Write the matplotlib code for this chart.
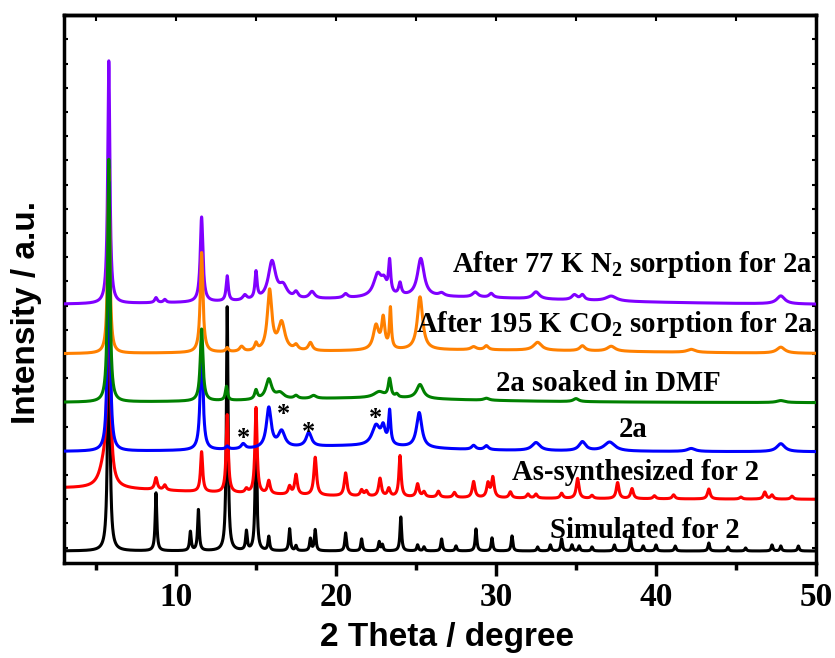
import numpy as np
import matplotlib.pyplot as plt
from matplotlib import font_manager
from matplotlib.ticker import MultipleLocator

# peak lists: (2theta, height, half width), heights in plot units
# base = flat level of each curve in the stack
sim_base = 12
sim_peaks = [(5.8, 300, 0.07), (8.75, 58, 0.06), (10.9, 19, 0.06), (11.4, 41, 0.06),
             (13.2, 244, 0.06), (14.4, 19, 0.06), (15.0, 131, 0.06), (15.8, 14, 0.06),
             (17.1, 22, 0.06), (17.5, 5, 0.06), (18.4, 12, 0.06), (18.7, 21, 0.06),
             (20.6, 18, 0.06), (21.6, 12, 0.06), (22.7, 9, 0.06), (22.9, 6, 0.06),
             (24.05, 34, 0.06), (25.1, 6, 0.06), (25.5, 4, 0.06), (26.6, 12, 0.06),
             (27.5, 5, 0.06), (28.75, 22, 0.06), (29.75, 13, 0.06), (31.0, 15, 0.06),
             (32.6, 4, 0.06), (33.4, 6, 0.06), (34.1, 12, 0.06), (34.75, 6, 0.06),
             (35.2, 5, 0.06), (36.0, 4, 0.06), (37.4, 6, 0.06), (38.4, 14, 0.06),
             (39.2, 5, 0.06), (40.0, 6, 0.06), (41.2, 5, 0.06), (43.3, 8, 0.06),
             (44.5, 4, 0.06), (45.6, 3, 0.06), (47.25, 6, 0.06), (47.8, 5, 0.06),
             (48.9, 5, 0.06)]

as_base = 63
as_peaks = [(3.0, 12, 12.0), (5.5, 20, 0.35), (5.8, 220, 0.1), (8.75, 12, 0.1), (9.3, 5, 0.1),
            (11.6, 40, 0.08), (13.2, 78, 0.08), (14.4, 4, 0.1), (15.0, 86, 0.08),
            (15.8, 13, 0.1), (17.1, 8, 0.1), (17.5, 20, 0.1), (18.7, 38, 0.1),
            (20.6, 23, 0.1), (21.6, 6, 0.1), (21.9, 5, 0.1), (22.75, 18, 0.1),
            (23.3, 8, 0.1), (24.0, 41, 0.08), (25.1, 13, 0.1), (25.5, 5, 0.1),
            (26.4, 6, 0.1), (27.4, 5, 0.1), (28.6, 16, 0.1), (29.5, 14, 0.1),
            (29.8, 20, 0.1), (30.9, 6, 0.1), (32.0, 4, 0.1), (32.5, 4, 0.1),
            (34.1, 5, 0.1), (35.1, 20, 0.1), (36.0, 3, 0.1), (37.6, 16, 0.1),
            (38.5, 10, 0.1), (39.9, 3, 0.1), (41.1, 4, 0.1), (43.3, 10, 0.1),
            (45.3, 2, 0.1), (46.8, 7, 0.1), (47.25, 4, 0.1), (48.5, 3, 0.1)]

act_base = 111
act_peaks = [(21.0, 6, 6.0), (5.8, 270, 0.08), (11.6, 110, 0.1), (13.2, 3, 0.1), (14.2, 5, 0.15),
             (15.8, 40, 0.18), (16.6, 16, 0.25), (18.3, 14, 0.2), (22.5, 20, 0.3),
             (22.95, 16, 0.15), (23.35, 33, 0.08), (25.2, 35, 0.2), (28.6, 4, 0.15),
             (29.4, 4, 0.15), (32.5, 8, 0.3), (35.4, 9, 0.25), (37.1, 9, 0.4),
             (42.2, 3, 0.3), (47.8, 8, 0.3)]

dmf_base = 160
dmf_peaks = [(22.0, 5, 8.0), (5.8, 243, 0.08), (11.6, 72, 0.1), (13.15, 14, 0.08), (15.0, 9, 0.1),
             (15.8, 20, 0.22), (16.5, 6, 0.3), (17.5, 3, 0.15), (18.6, 3, 0.2),
             (22.7, 6, 0.4), (23.35, 18, 0.1), (23.8, 3, 0.1), (25.25, 14, 0.25),
             (29.4, 2, 0.2), (35.0, 3, 0.2), (47.8, 2, 0.3)]

co2_base = 208
co2_peaks = [(28.0, 5, 15.0), (5.8, 185, 0.08), (11.6, 100, 0.1), (13.2, 4, 0.1), (14.1, 5, 0.15),
             (15.0, 7, 0.1), (15.85, 60, 0.17), (16.6, 28, 0.25), (17.5, 5, 0.15),
             (18.4, 8, 0.15), (22.5, 24, 0.2), (22.95, 30, 0.12), (23.4, 40, 0.07),
             (25.25, 53, 0.2), (28.6, 3, 0.2), (29.4, 4, 0.15), (32.6, 8, 0.3),
             (35.4, 5, 0.2), (37.2, 5, 0.3), (42.2, 3, 0.3), (47.8, 6, 0.3)]

n2_base = 257
n2_peaks = [(26.0, 9, 12.0), (5.8, 243, 0.08), (8.75, 5, 0.1), (9.3, 3, 0.1), (11.6, 85, 0.1),
            (13.2, 25, 0.08), (14.3, 5, 0.15), (15.0, 27, 0.08), (16.0, 38, 0.28),
            (16.7, 12, 0.3), (17.5, 6, 0.15), (18.5, 7, 0.2), (20.6, 4, 0.15),
            (22.6, 22, 0.3), (23.0, 12, 0.2), (23.35, 32, 0.08), (24.0, 12, 0.1),
            (25.3, 38, 0.25), (26.6, 3, 0.2), (28.7, 5, 0.2), (29.7, 4, 0.15),
            (32.5, 7, 0.25), (34.9, 5, 0.2), (35.4, 5, 0.15), (37.2, 5, 0.4),
            (47.8, 8, 0.3)]

labels = ["Simulated for 2", "As-synthesized for 2", "2a", "2a soaked in DMF",
          "After 195 K CO$_2$ sorption for 2a", "After 77 K N$_2$ sorption for 2a"]
label_pos = [(33.4, 25), (31.0, 83), (37.7, 126), (30.0, 172), (25.0, 231), (27.25, 291)]
star_pos = [(14.2, 124), (16.7, 148), (18.3, 131), (22.5, 144)]

colors = ["black", "#ff0000", "#0000ff", "#008000", "#ff8000", "#8000ff"]
zorders = [1, 2, 5, 6, 4, 3]

bases = [sim_base, as_base, act_base, dmf_base, co2_base, n2_base]
peak_sets = [sim_peaks, as_peaks, act_peaks, dmf_peaks, co2_peaks, n2_peaks]

two_theta = np.linspace(3, 50, 8000)


def pattern(base, peaks):
    y = np.full_like(two_theta, float(base))
    for c, h, w in peaks:
        y += h * w**2 / ((two_theta - c)**2 + w**2)
    return y


names = {f.name for f in font_manager.fontManager.ttflist}
if "Liberation Sans Narrow" in names:
    label_font, label_size = "Liberation Sans Narrow", 28
else:
    label_font, label_size = "Liberation Sans", 24

plt.rcParams['mathtext.fontset'] = 'custom'
plt.rcParams['mathtext.rm'] = 'Liberation Serif:bold'
plt.rcParams['mathtext.it'] = 'Liberation Serif:bold'
plt.rcParams['mathtext.bf'] = 'Liberation Serif:bold'

fig = plt.figure(figsize=(8.35, 6.58), dpi=100)
ax = fig.add_axes([64 / 835, 95 / 658, 752 / 835, 548 / 658])

for base, peaks, col, z in zip(bases, peak_sets, colors, zorders):
    ax.plot(two_theta, pattern(base, peaks), color=col, lw=2.2, zorder=z)

for txt, (x, y) in zip(labels, label_pos):
    ax.text(x, y, txt, fontsize=20.7, fontweight='bold', family='Liberation Serif',
            va='baseline', ha='left', zorder=10)
for x, y in star_pos:
    ax.text(x, y, "*", fontsize=19, fontweight='bold', family='Liberation Serif',
            va='center', ha='center', zorder=10)

ax.set_xlim(3, 50)
ax.set_ylim(0, 548)
ax.xaxis.set_major_locator(MultipleLocator(10))
ax.xaxis.set_minor_locator(MultipleLocator(5))
ax.set_yticks(np.arange(15.4, 548, 24.2))
ax.set_yticklabels([])
ax.tick_params(axis='x', which='major', direction='out', length=9, width=2.5, pad=5,
               labelsize=24)
ax.tick_params(axis='x', which='minor', direction='out', length=5, width=2.5)
ax.tick_params(axis='y', which='both', direction='in', length=3, width=1.5, right=True)
for lab in ax.get_xticklabels():
    lab.set_family('Liberation Serif')
    lab.set_fontweight('bold')
for s in ax.spines.values():
    s.set_linewidth(2.5)

# inward ticks along the top edge
top = ax.secondary_xaxis('top')
top.xaxis.set_major_locator(MultipleLocator(5))
top.tick_params(axis='x', direction='in', length=4, width=1.5, labeltop=False)
top.spines['top'].set_linewidth(2.5)

ax.set_xlabel("2 Theta / degree", family=label_font, fontweight='bold',
              fontsize=label_size)
ax.xaxis.set_label_coords(0.509, -0.108)
ax.set_ylabel("Intensity / a.u.", family=label_font, fontweight='bold',
              fontsize=label_size)
ax.yaxis.set_label_coords(-0.029, 0.458)

fig.savefig("out.png", dpi=100)
